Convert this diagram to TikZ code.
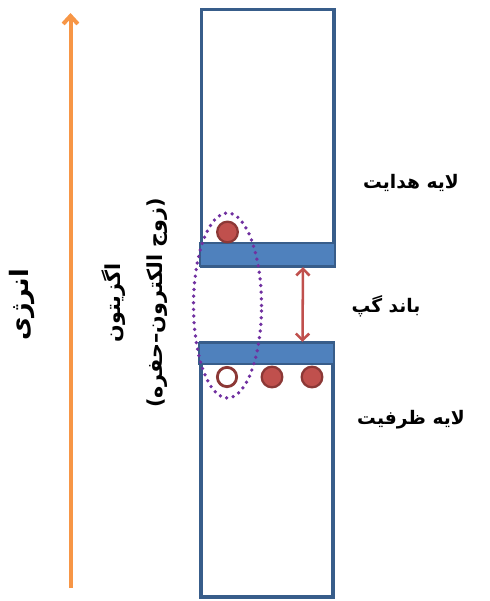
\documentclass[tikz,border=0pt]{standalone}
\usepackage{fontspec}
\usetikzlibrary{shapes.geometric, arrows.meta, positioning}
\newfontfamily\farsi[Script=Arabic]{DejaVu Sans}
\TeXXeTstate=1
\definecolor{bandline}{HTML}{385D8A}
\definecolor{bandfill}{HTML}{4F81BD}
\definecolor{carrier}{HTML}{C0504D}
\definecolor{carrierline}{HTML}{8C3836}
\definecolor{excitonline}{HTML}{7030A0}
\definecolor{energyline}{HTML}{F79646}

\begin{document}
\begin{tikzpicture}[
  x=0.75pt, y=-0.75pt,
  band/.style={
    rectangle,
    draw=bandline,
    line width=2.6pt,
    fill=white,
    inner sep=0pt
  },
  edge/.style={
    rectangle,
    draw=bandline,
    line width=1.6pt,
    fill=bandfill,
    inner sep=0pt,
    minimum width=101pt
  },
  electron/.style={
    circle,
    draw=carrierline,
    line width=1.7pt,
    fill=carrier,
    inner sep=0pt,
    minimum size=15.5pt
  },
  hole/.style={
    electron,
    fill=white,
    line width=2.1pt,
    minimum size=14.5pt
  },
  exciton/.style={
    ellipse,
    draw=excitonline,
    line width=2.8pt,
    dash pattern=on 0pt off 5pt,
    line cap=round,
    inner sep=0pt
  },
  label/.style={
    font=\farsi\bfseries\fontsize{14}{17}\selectfont,
    inner sep=1pt
  },
  arrow/.style={line width=3pt, draw=energyline, -{Straight Barb[length=6pt, width=11pt]}},
  gap/.style={line width=1.9pt, draw=carrier, {Straight Barb[length=5pt, width=10pt]}-{Straight Barb[length=5pt, width=10pt]}}
]
\useasboundingbox (0,0) rectangle (490,601);

% bands
\node[band, minimum width=99.4pt, minimum height=192.4pt] (conduction) at (267.75,137.75) {};
\node[edge, minimum height=17.25pt] (cbedge) at (267.5,254.5) {};
\node[band, minimum width=99pt, minimum height=190.5pt] (valence) at (267,470) {};
\node[edge, minimum height=15.75pt] (vbedge) at (266.5,353.5) {};

% carriers
\node[electron] (e1) at (227.5,232) {};
\node[hole] (h1) at (227,377) {};
\node[electron] (e2) at (272,377) {};
\node[electron] (e3) at (312,377) {};
\node[exciton, minimum width=51pt, minimum height=138.75pt] (pair) at (227.5,305.5) {};

% band gap
\draw[gap] ([xshift=26.6pt]cbedge.south) -- ([xshift=27pt]vbedge.north);

% energy axis
\coordinate (elow) at (70.5,588);
\coordinate (ehigh) at (70.5,13);
\draw[arrow] (elow) -- (ehigh);

% labels
\node[label, rotate=90, font=\farsi\bfseries\fontsize{19}{22}\selectfont] (energylabel) at (22,305) {\beginR انرژی\endR};
\node[label, rotate=90, align=center, font=\farsi\bfseries\fontsize{15.5}{31}\selectfont] (excitonlabel) at (134.5,303) {\beginR اگزیتون\endR\\\beginR(زوج الکترون–حفره)\endR};
\node[label] (cblabel) at (411,183) {\beginR لایه هدایت\endR};
\node[label] (gaplabel) at (386,306) {\beginR باند گپ\endR};
\node[label] (vblabel) at (411,420) {\beginR لایه ظرفیت\endR};

\end{tikzpicture}
\end{document}
